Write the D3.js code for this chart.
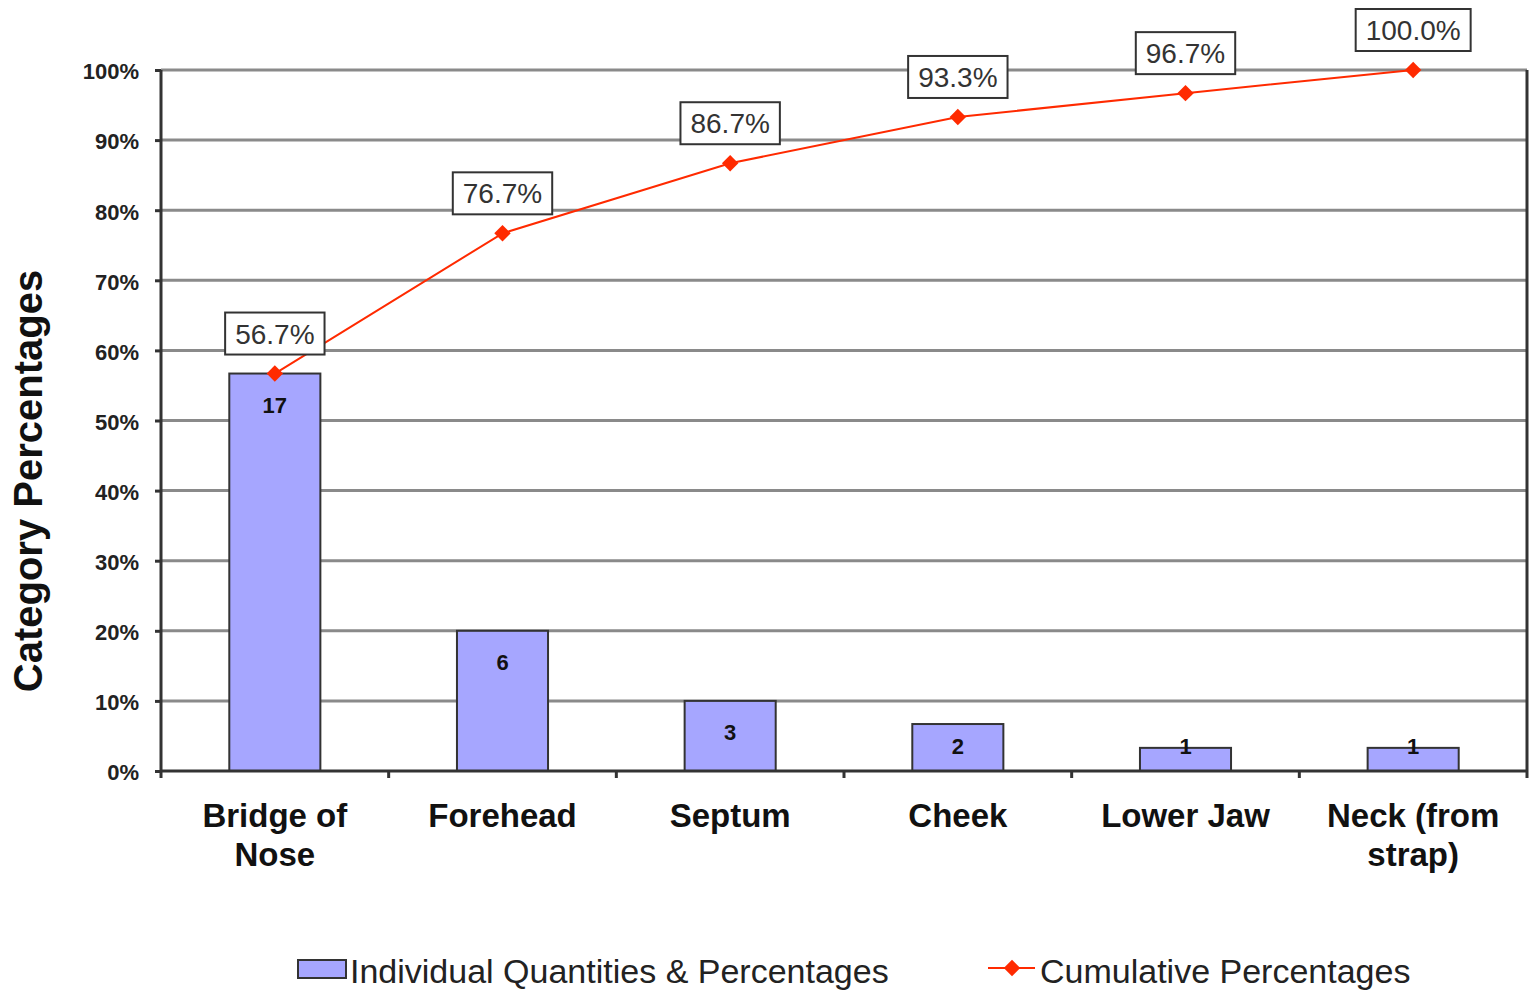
<!DOCTYPE html>
<html><head><meta charset="utf-8">
<script src="https://cdn.jsdelivr.net/npm/d3@7"></script>
<style>html,body{margin:0;padding:0;background:#fff;}svg{display:block;font-family:"Liberation Sans",Arial,sans-serif;}</style>
</head><body>
<svg id="c" width="1530" height="993"></svg>
<script>
const categories = ["Bridge of|Nose","Forehead","Septum","Cheek","Lower Jaw","Neck (from|strap)"];
const counts = [17, 6, 3, 2, 1, 1];
const individualPct = [56.7, 20.0, 10.0, 6.7, 3.3, 3.3];
const cumulativePct = [56.7, 76.7, 86.7, 93.3, 96.7, 100.0];
const yTicks = [0,10,20,30,40,50,60,70,80,90,100];
const seriesNames = ["Individual Quantities & Percentages","Cumulative Percentages"];

const svg = d3.select("#c");
const L = 161, R = 1527, T = 70, B = 771;
const x = d3.scaleBand().domain(d3.range(categories.length)).range([L, R]).paddingInner(0.6).paddingOuter(0.3);
const xb = d3.scaleBand().domain(d3.range(categories.length)).range([L, R]);
const y = d3.scaleLinear().domain([0,100]).range([B, T]);
const barColor = "#a6a6ff", lineColor = "#ff2a00", dark = "#333";

// gridlines
svg.append("g").selectAll("line").data(yTicks.filter(d=>d>0)).join("line")
  .attr("x1", L).attr("x2", R).attr("y1", d=>y(d)).attr("y2", d=>y(d))
  .attr("stroke", "#8a8a8a").attr("stroke-width", 3);

// y axis
const ya = svg.append("g").attr("transform", `translate(${L},0)`)
  .call(d3.axisLeft(y).tickValues(yTicks).tickFormat(d=>d+"%").tickSize(6).tickPadding(16));
ya.select(".domain").remove();
ya.selectAll(".tick line").attr("stroke", dark).attr("stroke-width", 3);
ya.selectAll(".tick text").attr("font-size", 22).attr("font-weight", "bold").attr("fill", "#222")
  .attr("font-family", "Liberation Sans, Arial, sans-serif").attr("dy", "0.4em");

// right border & left axis
svg.append("line").attr("x1", R).attr("x2", R).attr("y1", T).attr("y2", B+7).attr("stroke", dark).attr("stroke-width", 3);
svg.append("line").attr("x1", L).attr("x2", L).attr("y1", T).attr("y2", B+7).attr("stroke", dark).attr("stroke-width", 3);

// bars
svg.append("g").selectAll("rect").data(individualPct).join("rect")
  .attr("x", (d,i)=>x(i)).attr("width", x.bandwidth())
  .attr("y", d=>y(d)).attr("height", d=>B - y(d))
  .attr("fill", barColor).attr("stroke", dark).attr("stroke-width", 2);

// x axis
svg.append("line").attr("x1", L).attr("x2", R).attr("y1", B).attr("y2", B).attr("stroke", dark).attr("stroke-width", 3);
svg.append("g").selectAll("line").data(d3.range(1, categories.length)).join("line")
  .attr("x1", i=>xb(i)).attr("x2", i=>xb(i)).attr("y1", B).attr("y2", B+7)
  .attr("stroke", dark).attr("stroke-width", 3);

// bar labels
svg.append("g").selectAll("text").data(counts).join("text")
  .attr("x", (d,i)=>x(i)+x.bandwidth()/2)
  .attr("y", (d,i)=>Math.min(y(individualPct[i])+39, B-17))
  .attr("text-anchor", "middle").attr("font-size", 22).attr("font-weight", "bold").attr("fill", "#111")
  .text(d=>d);

// x labels
const xl = svg.append("g").selectAll("text").data(categories).join("text")
  .attr("x", (d,i)=>xb(i)+xb.bandwidth()/2).attr("y", 827)
  .attr("text-anchor", "middle").attr("font-size", 33).attr("font-weight", "bold").attr("fill", "#111");
xl.each(function(d,i){
  const parts = d.split("|");
  d3.select(this).selectAll("tspan").data(parts).join("tspan")
    .attr("x", xb(i)+xb.bandwidth()/2).attr("dy", (p,j)=>j===0?0:39).text(p=>p);
});

// y title
svg.append("text").attr("transform", "translate(42,481) rotate(-90)")
  .attr("text-anchor", "middle").attr("font-size", 40).attr("font-weight", "bold").attr("fill", "#111")
  .text("Category Percentages");

// cumulative line
const cx = i => xb(i)+xb.bandwidth()/2;
svg.append("path").datum(cumulativePct)
  .attr("d", d3.line().x((d,i)=>cx(i)).y(d=>y(d)))
  .attr("fill", "none").attr("stroke", lineColor).attr("stroke-width", 2);
svg.append("g").selectAll("path").data(cumulativePct).join("path")
  .attr("d", d3.symbol().type(d3.symbolSquare).size(135))
  .attr("transform", (d,i)=>`translate(${cx(i)},${y(d)}) rotate(45)`)
  .attr("fill", lineColor);

// cumulative labels with boxes
const lg = svg.append("g").selectAll("g").data(cumulativePct).join("g")
  .attr("transform", (d,i)=>`translate(${cx(i)},${y(d)-40})`);
lg.append("rect").attr("fill", "#fff").attr("stroke", dark).attr("stroke-width", 2);
lg.append("text").attr("text-anchor", "middle").attr("dy", "0.36em")
  .attr("font-size", 28).attr("fill", "#333").text(d=>d.toFixed(1)+"%");
lg.each(function(){
  const t = d3.select(this).select("text").node().getBBox();
  d3.select(this).select("rect").attr("x", t.x-10).attr("width", t.width+20).attr("y", -21).attr("height", 42);
});

// legend
const leg = svg.append("g");
leg.append("rect").attr("x", 298).attr("y", 960).attr("width", 48).attr("height", 18)
  .attr("fill", barColor).attr("stroke", dark).attr("stroke-width", 2);
leg.append("text").attr("x", 350).attr("y", 983).attr("font-size", 34).attr("fill", "#222").text(seriesNames[0]);
leg.append("line").attr("x1", 988).attr("x2", 1035).attr("y1", 968).attr("y2", 968).attr("stroke", lineColor).attr("stroke-width", 2);
leg.append("path").attr("d", d3.symbol().type(d3.symbolSquare).size(135)).attr("transform", "translate(1012,968) rotate(45)").attr("fill", lineColor);
leg.append("text").attr("x", 1040).attr("y", 983).attr("font-size", 34).attr("fill", "#222").text(seriesNames[1]);
</script>
</body></html>
